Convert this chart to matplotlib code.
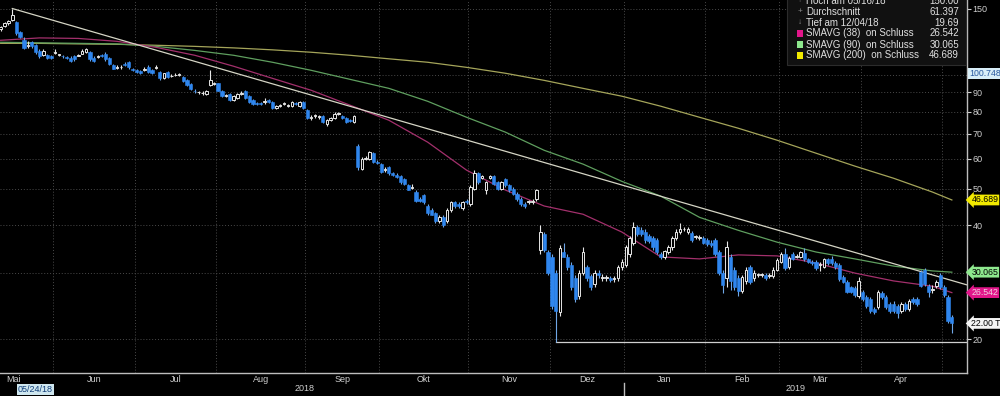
import numpy as np
import pandas as pd
import matplotlib
matplotlib.use('Agg')
import matplotlib.pyplot as plt
import matplotlib.transforms as mtransforms
from matplotlib.patches import Rectangle
from matplotlib.ticker import FixedLocator, FixedFormatter, NullLocator

plt.rcParams['font.family'] = ['Liberation Sans', 'DejaVu Sans']

# Handelstage (Mai 2018 - Mai 2019)
holidays = ['2018-05-28', '2018-07-04', '2018-09-03', '2018-11-22', '2018-12-05',
            '2018-12-25', '2019-01-01', '2019-01-21', '2019-02-18', '2019-04-19']
dates = pd.bdate_range('2018-05-11', '2019-05-03', freq='C', holidays=holidays)

# Kerzen: Eroeffnung / Hoch / Tief / Schluss
opens = [132, 135, 137, 140, 138, 130, 124, 119, 122, 120, 116, 113, 113, 112,
         114.5, 113, 112.5, 111.5, 111, 112, 112.5, 114, 115, 115, 111, 111.5, 113, 114, 111, 106, 104.5, 104.8, 107, 108, 104,
         103, 102.5, 103, 105, 103, 104.5, 102, 98, 102, 99.3, 99.8, 100, 99, 97, 94.5, 91, 90, 89.5, 89, 94, 94.8,
         95, 91, 88, 89, 86, 87, 89, 91, 88, 86, 84.2, 84.3, 85, 86, 85, 82, 83, 84, 83, 83, 84.5, 83, 85,
         81, 77, 78, 77.5, 78, 74, 76, 77, 79, 78, 77, 76, 75, 65, 56.5, 60, 60, 62, 59,
         58, 56, 57, 55, 54.5, 54, 53, 51, 50.3, 49, 47, 48, 45, 44, 43, 41, 42, 41, 44, 46, 45.5, 44.5, 46.5,
         45.5, 50, 55, 53.5, 49.5, 53.5, 54, 52, 50, 53, 51, 50, 48.5, 47, 45.5, 46, 46, 47, 34.5, 38, 34,
         33, 30, 23.6, 34, 33, 31.5, 29, 26, 30, 31, 29.3, 28, 30, 29, 29, 29, 28.8, 29, 31,
         31.5, 33.5, 36, 39.5, 38.8, 38.5, 37.5, 37, 36.5, 33.5, 33, 34, 35, 37, 38.3, 39, 38.5, 38.2, 37.2, 37, 37,
         36.5, 36, 36.5, 34, 30, 29, 33, 30.5, 29, 26.8, 28.5, 31, 29, 29.5, 29.5, 29.6, 29.4, 29.3, 30.5,
         32, 33.6, 31, 33.5, 33, 33, 33.8, 32.5, 32, 32, 31.4, 31, 32.5, 32.6, 31.8, 31.5, 29.2, 28.3, 27.4, 27.3, 26,
         26.6, 25.8, 25.5, 24, 24.3, 26.5, 25.8, 24.8, 24.8, 24.5, 23.8, 24.8, 24, 25.6, 25.5, 30.1, 30.5, 27.6, 27, 27.6, 29.6,
         27.5, 25.8, 22.9]
highs = [135, 138, 140, 150, 139, 131, 126, 123, 123, 121, 117, 117, 114, 113,
         117, 114, 113, 112, 112, 113, 114, 117, 118, 116, 112, 113, 114, 115, 111.5, 107, 106, 106.5, 108, 109, 104.5,
         103.5, 103, 105, 106, 103.5, 106, 102.5, 101.5, 102.5, 100.5, 101, 101.5, 99.5, 97.5, 95, 92, 91, 90.5, 91.5, 103, 96,
         95.5, 91.5, 89, 89.5, 88.5, 89.5, 90.5, 91.5, 88.5, 86.5, 85, 85, 87, 86.5, 85.5, 83.5, 84, 85, 84, 85.5, 85, 85.5, 85.5,
         81.5, 78.5, 79, 78.5, 78.5, 76.5, 77.5, 80, 80, 78.5, 77.5, 76.5, 78.5, 65.5, 60.5, 61, 63, 62.5, 59.5,
         58.5, 57, 57.5, 55.5, 55, 54.5, 53.5, 51.5, 51.5, 49.5, 47.5, 48.5, 45.5, 44.5, 43.5, 42.5, 42.5, 44.5, 46.5, 46.5, 46, 46.5, 47,
         51, 56, 55.5, 54.5, 52.5, 54.5, 54.5, 52.5, 52.5, 53.5, 51.5, 50.5, 49, 47.5, 46, 46.8, 47, 50, 40, 38.5, 34.5,
         33.5, 30.5, 35.5, 36, 33.5, 32, 29.5, 30.5, 35, 31.5, 29.8, 30.5, 30.5, 29.8, 29.6, 29.4, 29.4, 31.5, 32.5,
         35.5, 37.5, 40.9, 40, 39.5, 39, 38, 37.5, 37, 34, 34.5, 35.5, 37.5, 39, 40.5, 39.6, 39.5, 38.6, 37.8, 37.6, 37.4,
         37, 36.5, 37, 34.5, 30.5, 36.3, 33.5, 31, 29.5, 29.6, 31, 31.5, 30.5, 30, 30, 30, 29.9, 31, 32.8,
         34.1, 34.9, 33.2, 34, 33.5, 34.3, 34.8, 32.8, 32.3, 32.3, 31.9, 32.8, 32.8, 33.2, 32.1, 31.8, 29.5, 28.6, 27.7, 27.6, 29.2,
         27, 26.1, 25.8, 24.3, 27, 26.8, 26.1, 25.1, 25.2, 24.8, 25.1, 25.1, 25.5, 25.9, 25.8, 30.5, 30.8, 27.9, 27.8, 28.7, 29.9,
         27.8, 26.1, 23.2]
lows = [131, 134, 136, 139, 128, 125, 117, 118, 118, 114, 111, 112, 110, 110,
        113.5, 112, 111, 110.5, 108, 109, 112, 113.5, 114.5, 109, 108, 111, 111.5, 109, 106, 103.5, 103.5, 104, 105.5, 104, 102.5,
        101.5, 100.5, 102.5, 101.5, 100.5, 104, 97, 97.5, 98.5, 98.8, 99.3, 99.5, 96, 93.5, 91.5, 89.5, 89, 88.5, 88.5, 93.5, 94,
        90.5, 87.5, 87.5, 85.5, 85.5, 86.5, 88.5, 86.5, 84.5, 83.5, 83.3, 83.5, 84, 84.5, 81.5, 81.5, 82.5, 83.5, 82.5, 82.5, 83.5, 82.5, 81.5,
        76.5, 76, 77, 76.5, 74.5, 73.5, 75.5, 76.5, 78.5, 76.5, 74.5, 75, 74.5, 56, 56, 59.5, 59.5, 58.5, 58,
        55, 55.5, 54.5, 54, 53.5, 51.5, 51, 49.5, 49.8, 46, 46, 45.5, 42.5, 42.5, 40.5, 40.5, 39.5, 40.5, 43.5, 44.5, 44.5, 44, 45.5,
        45, 49.5, 51.5, 53, 48.5, 53, 51, 49.5, 49.5, 50.5, 49, 48, 46.5, 45, 44.5, 45.5, 45.5, 46.5, 33.5, 34, 29.5,
        24, 19.69, 23, 33, 30.5, 27, 25, 25.5, 29.5, 28.5, 27, 27.5, 29, 28.5, 28.5, 28.3, 28.4, 28.5, 30.5,
        31, 33, 35.5, 37.5, 37.5, 36, 36, 34.5, 33.5, 32.5, 32.5, 33.5, 34.5, 36.5, 38, 38.6, 38, 36.2, 36.8, 36.6, 35.6,
        35.2, 35, 33.2, 29.5, 26.5, 27.5, 27, 27, 26, 26.5, 28, 28, 28.5, 29.2, 29.2, 28.7, 29, 29, 30.2,
        31.7, 30.5, 30.7, 32.3, 32.7, 32.7, 32.2, 31.7, 31.5, 30.5, 30.3, 30.8, 31.5, 31.5, 30.7, 28.5, 28.1, 26.4, 26.4, 25.8, 25.7,
        25.2, 24.1, 23.5, 23.3, 24, 25.5, 24, 23.5, 23.5, 22.8, 23.5, 23.7, 23.7, 24.7, 24.5, 27.4, 27.7, 25.8, 26.5, 27.3, 27.1,
        25.9, 22, 20.7]
closes = [134, 137, 139, 144, 129, 126, 118, 120, 119, 115, 112, 116, 111, 111,
          115, 113.5, 112, 111, 109, 110, 113, 116, 117, 110, 109, 112, 112, 110, 107, 104, 105, 105.2, 106, 105, 103,
          102, 101, 104, 102, 101, 105, 98, 101, 99, 99.6, 100.2, 100.5, 96.5, 94, 92, 90.5, 90.3, 89.8, 91, 97, 95.2,
          91, 88, 88.4, 86, 88, 89, 89.5, 87, 85, 84, 83.6, 84, 85.2, 85, 82, 83, 83.2, 84.2, 83.2, 85, 84, 85, 82,
          77, 77.3, 78.2, 77.7, 75, 76, 77, 79, 79.3, 77, 75, 75.5, 78, 57, 60, 60.3, 62.5, 59, 58.5,
          55.5, 56.3, 55, 54.5, 53.8, 52, 51.6, 49.7, 50.6, 46.3, 46.5, 46, 43, 42.7, 41, 42, 40.1, 44, 46, 45, 45, 46, 46,
          50.5, 55, 52, 54, 52, 54, 51.5, 50, 52, 51, 49.5, 48.5, 47, 45.5, 45, 46.3, 46.5, 49.5, 38.5, 34.5, 30,
          24.4, 23.7, 34.8, 33, 31, 27.5, 25.5, 30, 34, 29, 27.5, 30, 29.5, 29.2, 29.2, 28.7, 29, 31, 32,
          35, 37, 39.5, 38, 38, 36.5, 36.4, 35, 33.9, 33, 34.2, 35, 37, 38.5, 39, 39.2, 39, 36.6, 37.4, 37.2, 36,
          35.6, 35.5, 33.6, 30, 27.8, 35, 28.5, 27.5, 26.8, 29.2, 30.5, 28.3, 30, 29.7, 29.7, 29, 29.6, 30.5, 32.3,
          33.5, 30.8, 32.8, 32.6, 33.2, 34, 32.5, 32, 31.8, 30.8, 31.6, 32.5, 31.8, 31.8, 31, 28.8, 28.4, 26.7, 26.7, 26.1, 28.5,
          25.5, 24.4, 23.8, 23.6, 26.7, 25.8, 24.3, 23.8, 23.8, 23.5, 24.8, 24, 25.2, 25, 24.8, 27.7, 28, 26.6, 27.2, 28.4, 27.4,
          26.2, 22.3, 22.0]

ma_days = [0, 10, 20, 30, 40, 50, 60, 70, 80, 90, 100, 110, 120, 130, 140,
           150, 160, 170, 180, 190, 200, 210, 220, 230, 240, 245]
sma38 = [123.6, 125.4, 125.0, 122.8, 118.4, 112.8, 105.5, 98.0, 91.1, 83.2, 75.9, 66.4, 56.0, 49.6, 45.0,
         42.8, 38.4, 33.0, 32.6, 33.4, 33.2, 31.8, 29.9, 28.5, 27.6, 26.542]
sma90 = [122.1, 121.7, 121.3, 120.9, 119.1, 116.2, 112.8, 108.1, 102.9, 97.4, 92.2, 85.2, 77.3, 70.6, 63.2,
         58.1, 52.3, 47.8, 42.0, 38.8, 36.1, 34.0, 32.6, 31.2, 30.3, 30.065]
sma200 = [121.3, 121.3, 120.9, 120.6, 119.9, 119.1, 118.0, 116.6, 114.9, 112.8, 110.4, 108.1, 104.8, 101.1, 96.8,
          92.2, 87.9, 82.7, 77.3, 72.3, 67.2, 62.1, 57.4, 53.3, 49.0, 46.689]

# Trendlinie vom Hoch
trend_days = [3, 249]
trend_vals = [150.0, 27.8]

low_day = 143
low_val = 19.69
last_val = 22.00
cursor_val = 100.748
cursor_date = '2018-05-24'

ytick_vals = [20, 30, 40, 50, 60, 70, 80, 90, 150]
ytick_labels = ['20', '', '40', '50', '60', '70', '80', '90', '150']  # 30 liegt unter dem Schild
grid_vals = [20, 30, 40, 50, 60, 70, 80, 90, 100, 150]
month_names = ['Jan', 'Feb', 'Mär', 'Apr', 'Mai', 'Jun', 'Jul', 'Aug', 'Sep', 'Okt', 'Nov', 'Dez']

legend_labels = ['Hoch am 05/16/18', 'Durchschnitt', 'Tief am 12/04/18',
                 'SMAVG (38)  on Schluss', 'SMAVG (90)  on Schluss', 'SMAVG (200)  on Schluss']
legend_values = ['150.00', '61.397', '19.69', '26.542', '30.065', '46.689']

# Farben
c_up = '#e6e6e6'
c_down = '#2f86ee'
c_ma38 = '#a3306c'
c_ma90 = '#5f9f5f'
c_ma200 = '#a5a55a'
c_trend = '#d5d5c5'
c_text = '#cfcfcf'

fig = plt.figure(figsize=(10, 3.96), dpi=100, facecolor='black')
ax = fig.add_axes([0, 23 / 396, 0.967, 373 / 396], facecolor='black')

n = len(closes)
x = np.arange(n)
o = np.array(opens, dtype=float)
h = np.array(highs, dtype=float)
l = np.array(lows, dtype=float)
c = np.array(closes, dtype=float)
up = c >= o

xmin, xmax = -0.17, 248.9
ax.set_yscale('log')
ax.set_xlim(xmin, xmax)
ax.set_ylim(16.26, 158)

# Gitter
for v in grid_vals:
    ax.axhline(v, color='#4a4a4a', lw=0.7, ls=(0, (1, 2)), zorder=1)
month_idx = pd.Series(dates[:n].month)
bounds = [i - 0.5 for i in range(1, n) if month_idx[i] != month_idx[i - 1]]
for b in bounds:
    ax.axvline(b, color='#4a4a4a', lw=0.7, ls=(0, (1, 2)), zorder=1)

# Linien
ax.plot(ma_days, sma200, color=c_ma200, lw=0.9, zorder=2)
ax.plot(ma_days, sma90, color=c_ma90, lw=0.9, zorder=2)
ax.plot(ma_days, sma38, color=c_ma38, lw=0.9, zorder=2)
ax.plot(trend_days, trend_vals, color=c_trend, lw=0.9, zorder=2)
ax.plot([low_day, xmax], [low_val, low_val], color='#d0d0d0', lw=0.9, zorder=2)

# Kerzen
ax.vlines(x[up], l[up], h[up], colors=c_up, lw=0.8, zorder=3)
ax.vlines(x[~up], l[~up], h[~up], colors='#6fa6e6', lw=0.8, zorder=3)
ax.bar(x[up], c[up] - o[up], bottom=o[up], width=0.62, facecolor='black',
       edgecolor=c_up, lw=0.7, zorder=4)
ax.bar(x[~up], o[~up] - c[~up], bottom=c[~up], width=0.82, facecolor=c_down,
       edgecolor=c_down, lw=0.4, zorder=4)

# Achsen
for s in ['top', 'left']:
    ax.spines[s].set_visible(False)
for s in ['right', 'bottom']:
    ax.spines[s].set_color('#bdbdbd')
    ax.spines[s].set_linewidth(1.0)
ax.yaxis.tick_right()
ax.yaxis.set_major_locator(FixedLocator(ytick_vals))
ax.yaxis.set_major_formatter(FixedFormatter(ytick_labels))
ax.yaxis.set_minor_locator(NullLocator())
ax.tick_params(axis='y', colors=c_text, labelsize=6.5, length=3, width=0.8, pad=1)
ax.set_xticks([])

bt = mtransforms.blended_transform_factory(ax.transData, ax.transAxes)
first = True
for i0, i1 in zip([-0.5] + bounds, bounds + [n - 0.5]):
    d = dates[int(i0 + 0.5)]
    name = month_names[d.month - 1]
    if first:
        ax.text(xmin + 1.6, -0.018, name, transform=bt, ha='left', va='center',
                fontsize=6.5, color=c_text)
        first = False
    elif i1 < n - 1:
        ax.text((i0 + i1) / 2, -0.018, name, transform=bt, ha='center', va='center',
                fontsize=6.5, color=c_text)

# Jahre
year_b = [b for b in bounds if dates[int(b + 0.5)].month == 1][0]
ax.text((xmin + year_b) / 2 - 2, -0.042, '2018', transform=bt, ha='center', va='center',
        fontsize=6.5, color=c_text)
ax.text((year_b + xmax) / 2, -0.042, '2019', transform=bt, ha='center', va='center',
        fontsize=6.5, color=c_text)
ax.plot([year_b, year_b], [-0.028, -0.06], transform=bt, clip_on=False, color='#bdbdbd', lw=1)

cur_i = int(np.searchsorted(dates, pd.Timestamp(cursor_date)))
ax.text(cur_i, -0.044, '05/24/18', transform=bt, ha='center', va='center', fontsize=6.5,
        color='#123f7a', bbox=dict(boxstyle='square,pad=0.1', fc='#cfe7ef', ec='none'))

# Preisschilder rechts
rt = mtransforms.blended_transform_factory(ax.transAxes, ax.transData)
ax.text(1.002, cursor_val, '100.748', transform=rt, ha='left', va='center', fontsize=6.3,
        color='#2a5aa0', bbox=dict(boxstyle='square,pad=0.12', fc='#d8eef8', ec='none'))
tags = [(sma200[-1], '46.689', '#f2ea00', 'black'),
        (sma90[-1], '30.065', '#8ee88e', 'black'),
        (sma38[-1], '26.542', '#e2168a', '#f0d0e0'),
        (last_val, '22.00 TO', '#f4f4f4', 'black')]
for val, s, fc, tc in tags:
    ax.text(1.0045, val, s, transform=rt, ha='left', va='center', fontsize=6.3, color=tc,
            zorder=10, bbox=dict(boxstyle='larrow,pad=0.1', fc=fc, ec='none'))

# Legende oben rechts
fig.patches.append(Rectangle((0.787, 1 - 65 / 396), 0.179, 70 / 396, transform=fig.transFigure,
                             fc='#111111', ec='#2c2c2c', lw=0.8, zorder=5))
row_y = [1, 12, 23, 33.5, 44.5, 55.5]
marks = ['↑', '+', '↓']
sq_colors = ['#e2168a', '#8ee88e', '#f2ea00']
for k, (lab, val) in enumerate(zip(legend_labels, legend_values)):
    yy = 1 - row_y[k] / 396
    fig.text(0.806, yy, lab, ha='left', va='center', fontsize=7, color='#e0e0e0', zorder=6)
    fig.text(0.959, yy, val, ha='right', va='center', fontsize=7, color='#e0e0e0', zorder=6)
    if k < 3:
        fig.text(0.800, yy, marks[k], ha='center', va='center', fontsize=6, color='#8a8a8a', zorder=6)
    else:
        fig.patches.append(Rectangle((0.7965, yy - 3.5 / 396), 0.0068, 7 / 396,
                                     transform=fig.transFigure, fc=sq_colors[k - 3], ec='none', zorder=6))

fig.savefig('out.png', dpi=100, facecolor='black')
